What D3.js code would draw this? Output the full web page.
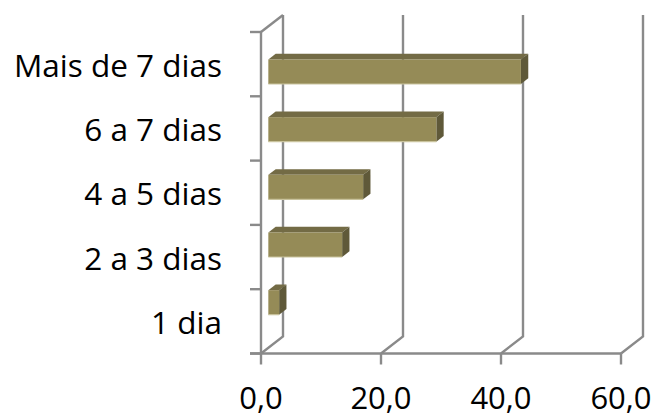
<!DOCTYPE html>
<html>
<head>
<meta charset="utf-8">
<script src="https://cdn.jsdelivr.net/npm/d3@7"></script>
<style>
html,body{margin:0;padding:0;background:#fff;}
svg{display:block;}
</style>
</head>
<body>
<svg id="chart" width="655" height="417"></svg>
<script>
const categories = ["1 dia", "2 a 3 dias", "4 a 5 dias", "6 a 7 dias", "Mais de 7 dias"];
const values = [1.8, 12.3, 15.8, 28.0, 42.1];
const xTicks = [0, 20, 40, 60];
const xTickLabels = ["0,0", "20,0", "40,0", "60,0"];

const svg = d3.select("#chart");
const W = 655, H = 417;

// front plane geometry
const x0 = 261, x1 = 621, yBottom = 353.5, yTop = 32;
// depth offset of the back wall
const depth = {dx: 22, dy: -17};
const barFront = 1/3, barBack = 2/3;

const x = d3.scaleLinear().domain([0, 60]).range([x0, x1]);
const y = d3.scaleBand().domain(categories).range([yBottom, yTop]).padding(0.575);
const yStep = d3.scaleBand().domain(categories).range([yBottom, yTop]).padding(0);

const gridColor = "#8a8a8a";
const gw = 2.4;

// back wall gridlines + floor diagonals
const grid = svg.append("g");
xTicks.forEach(t => {
  const fx = x(t);
  const bx = fx + depth.dx;
  grid.append("path")
    .attr("d", `M${bx},${yTop + depth.dy} L${bx},${yBottom + depth.dy} L${fx},${yBottom}`)
    .attr("fill", "none").attr("stroke", gridColor).attr("stroke-width", gw);
});
// left wall: top diagonal
grid.append("path")
  .attr("d", `M${x0},${yTop} L${x0 + depth.dx},${yTop + depth.dy}`)
  .attr("fill", "none").attr("stroke", gridColor).attr("stroke-width", gw);

// bars (3D boxes)
const bars = svg.append("g");
categories.forEach((c, i) => {
  const v = values[i];
  const fdx = depth.dx * barFront, fdy = depth.dy * barFront;
  const bdx = depth.dx * barBack, bdy = depth.dy * barBack;
  const xa = x(0) + fdx, xb = x(v) + fdx;
  const ya = y(c) + fdy, yb = y(c) + y.bandwidth() + fdy;
  const ddx = bdx - fdx, ddy = bdy - fdy;
  // top face
  bars.append("path")
    .attr("d", `M${xa},${ya} L${xa + ddx},${ya + ddy} L${xb + ddx},${ya + ddy} L${xb},${ya} Z`)
    .attr("fill", "#736b45");
  // right face
  bars.append("path")
    .attr("d", `M${xb},${ya} L${xb + ddx},${ya + ddy} L${xb + ddx},${yb + ddy} L${xb},${yb} Z`)
    .attr("fill", "#5f5939");
  // front face
  bars.append("rect")
    .attr("x", xa).attr("y", ya)
    .attr("width", xb - xa).attr("height", yb - ya)
    .attr("fill", "#958b57");
  // light bottom edge
  bars.append("line")
    .attr("x1", xa).attr("x2", xb).attr("y1", yb).attr("y2", yb)
    .attr("stroke", "#c9c39d").attr("stroke-width", 1.2);
});

// front axes
const axes = svg.append("g");
axes.append("line")
  .attr("x1", x0).attr("x2", x0).attr("y1", yTop).attr("y2", yBottom)
  .attr("stroke", gridColor).attr("stroke-width", gw);
axes.append("line")
  .attr("x1", x0 - 11).attr("x2", x1).attr("y1", yBottom).attr("y2", yBottom)
  .attr("stroke", gridColor).attr("stroke-width", gw);

// y ticks at category boundaries
const bounds = categories.map(c => yStep(c)).concat([yBottom]);
bounds.forEach(b => {
  axes.append("line")
    .attr("x1", x0 - 11).attr("x2", x0).attr("y1", b).attr("y2", b)
    .attr("stroke", gridColor).attr("stroke-width", gw);
});
// x ticks
xTicks.forEach(t => {
  axes.append("line")
    .attr("x1", x(t)).attr("x2", x(t)).attr("y1", yBottom).attr("y2", yBottom + 11)
    .attr("stroke", gridColor).attr("stroke-width", gw);
});

const font = "'Open Sans', 'Noto Sans', sans-serif";
// y labels
svg.append("g").selectAll("text").data(categories).join("text")
  .attr("x", 222)
  .attr("y", c => yStep(c) + yStep.bandwidth() / 2 + 12.5)
  .attr("text-anchor", "end")
  .attr("font-family", font)
  .attr("font-size", 31.5)
  .attr("fill", "#000")
  .text(c => c);

// x labels
svg.append("g").selectAll("text").data(xTicks).join("text")
  .attr("x", t => x(t))
  .attr("y", 409)
  .attr("text-anchor", "middle")
  .attr("font-family", font)
  .attr("font-size", 31)
  .attr("fill", "#000")
  .text((t, i) => xTickLabels[i]);
</script>
</body>
</html>
